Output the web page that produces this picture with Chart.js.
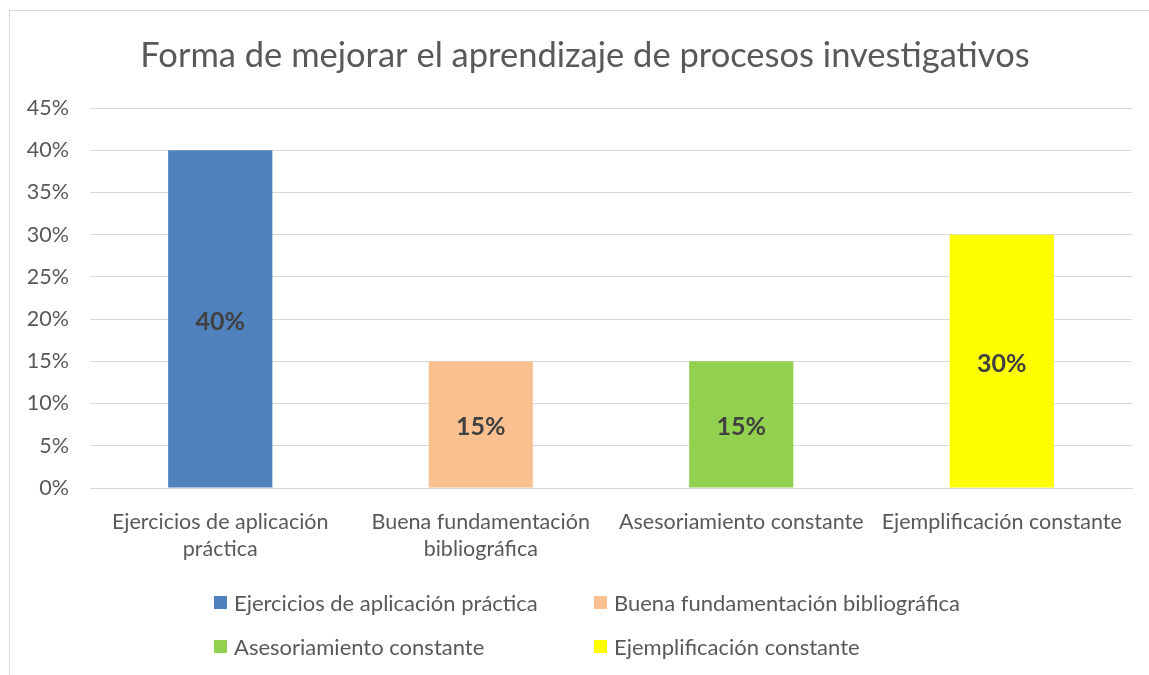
<!DOCTYPE html>
<html>
<head>
<meta charset="utf-8">
<script src="https://cdn.jsdelivr.net/npm/chart.js@4"></script>
<style>
  body { margin: 0; background: #fff; }
  #wrap { position: relative; width: 1149px; height: 675px; overflow: hidden; }
  #frame { position: absolute; left: 9px; top: 10px; width: 1200px; height: 700px; border: 1px solid #d9d9d9; box-sizing: border-box; }
  canvas { position: absolute; left: 0; top: 0; }
  #legend { position: absolute; left: 214px; top: 589px; display: grid; grid-template-columns: 380px 400px; row-gap: 18px;
    font-family: Lato, sans-serif; font-size: 22px; color: #595959; }
  #legend div { display: flex; align-items: center; height: 26px; }
  #legend span.box { width: 13px; height: 13px; margin-right: 7px; display: inline-block; }
</style>
</head>
<body>
<div id="wrap">
  <div id="frame"></div>
  <canvas id="chart" width="1149" height="675"></canvas>
  <div id="legend"></div>
</div>
<script>
const chartTitle = 'Forma de mejorar el aprendizaje de procesos investigativos';
const categories = [
  ['Ejercicios de aplicación', 'práctica'],
  ['Buena fundamentación', 'bibliográfica'],
  'Asesoriamiento constante',
  'Ejemplificación constante'
];
const seriesNames = [
  'Ejercicios de aplicación práctica',
  'Buena fundamentación bibliográfica',
  'Asesoriamiento constante',
  'Ejemplificación constante'
];
const values = [0.40, 0.15, 0.15, 0.30];
const colors = ['#4f81bd', '#fac090', '#92d050', '#ffff00'];
const yTicks = [0, 0.05, 0.10, 0.15, 0.20, 0.25, 0.30, 0.35, 0.40, 0.45];

const textColor = '#595959';
const font = 'Lato';

const datasets = seriesNames.map((name, i) => ({
  label: name,
  data: values.map((v, j) => (j === i ? v : null)),
  backgroundColor: colors[i],
  grouped: false,
  categoryPercentage: 1,
  barPercentage: 0.4
}));

// value labels in the middle of each bar
const barLabels = {
  id: 'barLabels',
  afterDatasetsDraw(chart) {
    const ctx = chart.ctx;
    ctx.save();
    ctx.font = 'bold 25px ' + font;
    ctx.fillStyle = '#404040';
    ctx.textAlign = 'center';
    ctx.textBaseline = 'middle';
    chart.data.datasets.forEach((ds, i) => {
      const meta = chart.getDatasetMeta(i);
      meta.data.forEach((bar, j) => {
        const v = ds.data[j];
        if (v == null) return;
        const y = (bar.y + bar.base) / 2 + 3;
        ctx.fillText(Math.round(v * 100) + '%', bar.x, y);
      });
    });
    ctx.restore();
  }
};

// title centred on the outer frame rather than the canvas
const frameTitle = {
  id: 'frameTitle',
  afterDraw(chart) {
    const ctx = chart.ctx;
    ctx.save();
    ctx.font = '34.5px ' + font;
    ctx.fillStyle = textColor;
    ctx.textAlign = 'center';
    ctx.textBaseline = 'middle';
    ctx.fillText(chartTitle, 585, 56);
    ctx.restore();
  }
};

const chart = new Chart(document.getElementById('chart'), {
  type: 'bar',
  data: { labels: categories, datasets: datasets },
  plugins: [barLabels, frameTitle],
  options: {
    responsive: false,
    animation: false,
    layout: { padding: { left: 12, right: 17, top: 108, bottom: 107 } },
    plugins: {
      legend: { display: false },
      tooltip: { enabled: false },
      title: { display: false }
    },
    scales: {
      x: {
        grid: { display: false },
        border: { color: '#d9d9d9', width: 1 },
        ticks: { color: textColor, font: { family: font, size: 21.5, lineHeight: 1.25 }, maxRotation: 0, autoSkip: false, padding: 13 },
        afterFit(scale) { scale.height = 80; }
      },
      y: {
        min: 0,
        max: 0.45,
        afterBuildTicks(scale) { scale.ticks = yTicks.map(v => ({ value: v })); },
        grid: { color: '#d9d9d9', drawTicks: false },
        border: { display: false },
        ticks: {
          color: textColor,
          font: { family: font, size: 21.5 },
          padding: 21,
          callback: v => Math.round(v * 100) + '%'
        },
        afterFit(scale) { scale.width = 78; }
      }
    }
  }
});

const legend = document.getElementById('legend');
seriesNames.forEach((name, i) => {
  const item = document.createElement('div');
  const box = document.createElement('span');
  box.className = 'box';
  box.style.background = colors[i];
  item.appendChild(box);
  item.appendChild(document.createTextNode(name));
  legend.appendChild(item);
});
</script>
</body>
</html>
